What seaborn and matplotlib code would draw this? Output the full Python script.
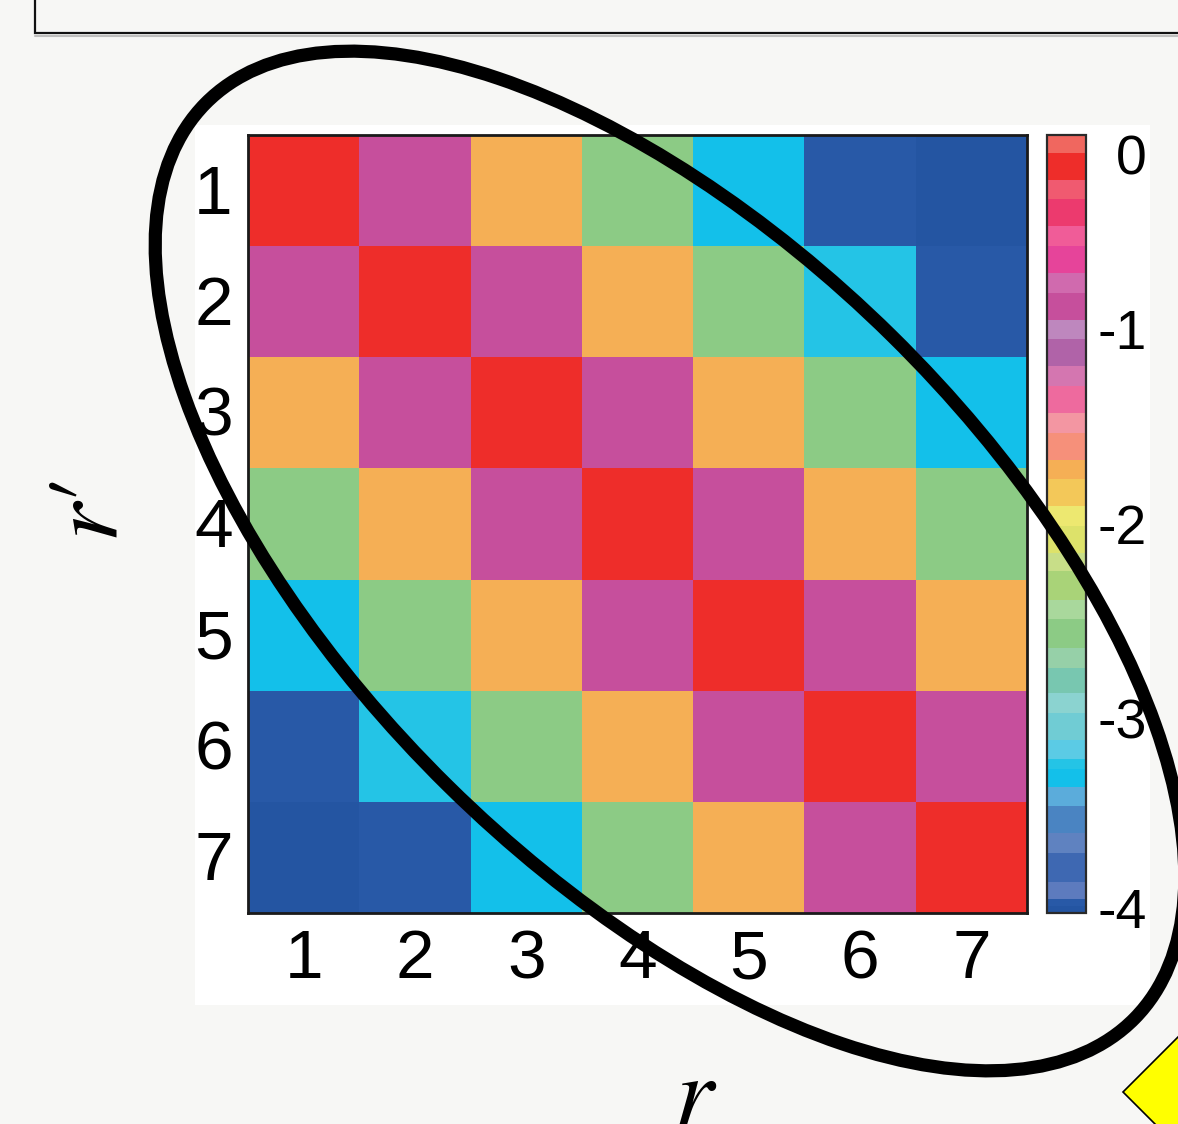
import matplotlib
matplotlib.use("Agg")
import matplotlib.pyplot as plt
import matplotlib.patheffects as pe
from matplotlib.colors import ListedColormap, BoundaryNorm
from matplotlib.patches import Rectangle, Ellipse, Polygon
from matplotlib.transforms import ScaledTranslation
import pandas as pd
import seaborn as sns

# ---- data -------------------------------------------------------------
r_labels = ["1", "2", "3", "4", "5", "6", "7"]
rprime_labels = ["1", "2", "3", "4", "5", "6", "7"]

row1 = [-0.15, -0.88, -1.72, -2.56, -3.30, -3.95, -3.98]
row2 = [-0.88, -0.15, -0.88, -1.72, -2.56, -3.23, -3.95]
row3 = [-1.72, -0.88, -0.15, -0.88, -1.72, -2.56, -3.30]
row4 = [-2.56, -1.72, -0.88, -0.15, -0.88, -1.72, -2.56]
row5 = [-3.30, -2.56, -1.72, -0.88, -0.15, -0.88, -1.72]
row6 = [-3.95, -3.23, -2.56, -1.72, -0.88, -0.15, -0.88]
row7 = [-3.98, -3.95, -3.30, -2.56, -1.72, -0.88, -0.15]

cbar_ticks = [-4, -3, -2, -1, 0]
cbar_ticklabels = ["-4", "-3", "-2", "-1", "0"]

# ---- stepped colour scale (band edges bottom -> top, one colour per band)
band_edges = [-4.00, -3.965, -3.93, -3.84, -3.69, -3.59, -3.45, -3.35, -3.26,
              -3.21, -3.11, -2.97, -2.87, -2.74, -2.64, -2.49, -2.39, -2.24,
              -2.15, -2.01, -1.91, -1.77, -1.67, -1.53, -1.43, -1.29, -1.19,
              -1.05, -0.95, -0.81, -0.71, -0.57, -0.47, -0.33, -0.23, -0.09,
              0.00]
band_colors = ["#2455A2", "#2859A7", "#5D7BBE", "#3E68B2", "#5F82C0", "#4A84C2",
               "#5BACDB", "#13C0EA", "#24C4E6", "#5BCBE5", "#70CCD4", "#8BD3D0",
               "#78C7B0", "#96D0A8", "#8CCB85", "#A9D89C", "#A9D378", "#C8DE88",
               "#DDE26A", "#EDE870", "#F3C859", "#F5AF55", "#F6907A", "#F396A2",
               "#EE6A9E", "#D476B0", "#B063A8", "#BE87BE", "#C64F9C", "#D06AAE",
               "#E6449A", "#F05C98", "#EC3A6E", "#F05A70", "#EE2D2A", "#F0675F"]
cmap = ListedColormap(band_colors)
norm = BoundaryNorm(band_edges, cmap.N)

# ---- figure -----------------------------------------------------------
sns.set_theme(style="white")
plt.rcParams["font.family"] = ["Liberation Sans", "DejaVu Sans"]
plt.rcParams["mathtext.fontset"] = "stix"
for key in ("text.color", "axes.labelcolor", "xtick.color", "ytick.color"):
    plt.rcParams[key] = "black"

W, H = 1178, 1124
fig = plt.figure(figsize=(W / 100, H / 100), dpi=100, facecolor="#F7F7F5")


def px_box(x0, y0, x1, y1):
    """Figure-fraction rectangle from pixel edges measured from the top-left."""
    return [x0 / W, 1 - y1 / H, (x1 - x0) / W, (y1 - y0) / H]


# backdrop: white panel behind the plot and the framed box along the top
bg = fig.add_axes([0, 0, 1, 1], zorder=0)
bg.set_xlim(0, W)
bg.set_ylim(H, 0)
bg.axis("off")
bg.add_patch(Rectangle((195, 125), 955, 880, facecolor="white", edgecolor="none"))
bg.plot([35, W + 5], [35.5, 35.5], color="#9a9a9a", lw=1.5, alpha=0.6)
bg.add_patch(Rectangle((35, -20), 1200, 53, facecolor="none",
                       edgecolor="#111111", lw=1.6))

# heatmap + colour bar
ax = fig.add_axes(px_box(248, 135, 1027, 913), zorder=2)
cax = fig.add_axes(px_box(1047, 135, 1086, 913), zorder=2)

df = pd.DataFrame([row1, row2, row3, row4, row5, row6, row7],
                  index=rprime_labels, columns=r_labels)
sns.heatmap(df, ax=ax, cbar_ax=cax, cmap=cmap, norm=norm, linewidths=0,
            cbar_kws={"spacing": "proportional", "ticks": cbar_ticks})

ax.set_xticklabels(r_labels, rotation=0)
ax.set_yticklabels(rprime_labels, rotation=0)
ax.tick_params(axis="x", length=0, labelsize=50, pad=11)
ax.tick_params(axis="y", length=0, labelsize=50, pad=11)
for s in ax.spines.values():
    s.set_visible(True)
    s.set_linewidth(2)
    s.set_color("#1a1a1a")

# nudge the row numbers slightly down
down = ScaledTranslation(0, -5 / 100, fig.dpi_scale_trans)
for lab in ax.get_yticklabels():
    lab.set_transform(lab.get_transform() + down)

cb = ax.collections[0].colorbar
cb.set_ticks(cbar_ticks, labels=cbar_ticklabels)
cb.minorticks_off()
cb.outline.set_visible(True)
cb.outline.set_linewidth(1.6)
cb.outline.set_edgecolor("#2a2a2a")
cax.tick_params(which="both", length=0, labelsize=40, pad=44)
up = ScaledTranslation(0, 5 / 100, fig.dpi_scale_trans)
for lab in cax.get_yticklabels():
    lab.set_horizontalalignment("right")
    if lab.get_text() == "0":
        lab.set_verticalalignment("top")
    elif lab.get_text() == "-4":
        lab.set_transform(lab.get_transform() + up)

ax.set_xlabel("$r$", fontsize=72)
ax.xaxis.set_label_coords(0.574, -0.178)
ax.set_ylabel(r"$r\prime$", fontsize=72)
ax.yaxis.set_label_coords(-0.141, 0.517)

# annotation layer: ellipse around the diagonal band and the marker corner
ov = fig.add_axes([0, 0, 1, 1], zorder=5)
ov.set_xlim(0, W)
ov.set_ylim(H, 0)
ov.axis("off")
ov.patch.set_alpha(0)
ov.add_patch(Ellipse((670, 561), 2 * 652, 2 * 316, angle=44.55, fill=False,
                     lw=9.5, edgecolor="black"))
h = 80
ov.add_patch(Polygon([(1123, 1092), (1123 + h, 1092 - h), (1123 + 2 * h, 1092),
                      (1123 + h, 1092 + h)], closed=True, facecolor="#FFFF00",
                     edgecolor="black", lw=1.2,
                     path_effects=[pe.SimplePatchShadow(offset=(3, -3),
                                                        shadow_rgbFace="#888888",
                                                        alpha=0.6),
                                   pe.Normal()]))

fig.savefig("out.png", dpi=100, facecolor=fig.get_facecolor())
